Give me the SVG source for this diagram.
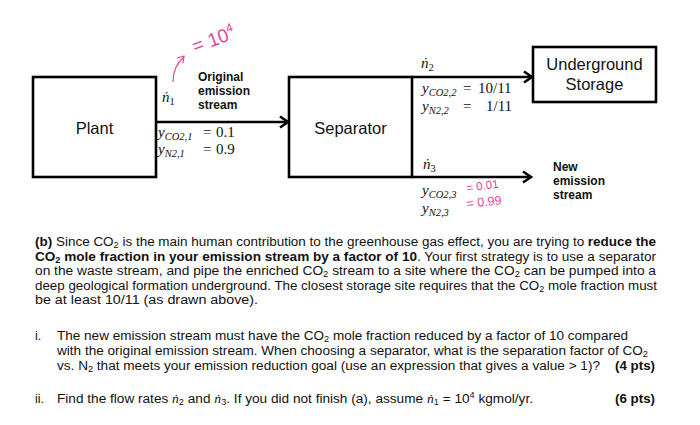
<svg xmlns="http://www.w3.org/2000/svg" width="700" height="425" viewBox="0 0 700 425">
<style>
.box{fill:#fff;stroke:#000;stroke-width:2.6}
.lbl{font-family:"Liberation Sans",Arial,sans-serif;font-size:16.5px;text-anchor:middle;fill:#111}
.bl{font-family:"Liberation Sans",Arial,sans-serif;font-size:12px;font-weight:bold;fill:#111}
.m{font-family:"Liberation Serif","DejaVu Serif",serif;font-size:15px;font-style:italic;fill:#111}
.up{font-style:normal}
.sub{font-size:10.5px}
.p{font-family:"Liberation Sans Narrow","Liberation Sans",Arial,sans-serif;font-size:12.5px;fill:#111}
.b{font-weight:bold}
.s{font-size:8.5px}
.ms{font-family:"Liberation Serif","DejaVu Serif",serif;font-style:italic}
.pink{fill:#e3439b;font-family:"Liberation Sans",Arial,sans-serif}
.conn{fill:none;stroke:#000;stroke-width:2.4}
</style>
<defs>
<marker id="arr" markerWidth="14" markerHeight="16" refX="11" refY="8" orient="auto" markerUnits="userSpaceOnUse">
<path d="M3,2.5 L11,8 L3,13.5" fill="none" stroke="#000" stroke-width="2.6"/>
</marker>
</defs>
<rect width="700" height="425" fill="#fff"/>

<g id="connectors">
<path class="conn" d="M156,122 H288" marker-end="url(#arr)"/>
<path class="conn" d="M412,77 H532" marker-end="url(#arr)"/>
<path class="conn" d="M412,177 H531" marker-end="url(#arr)"/>
</g>

<g id="plant">
<rect class="box" x="33" y="77" width="123" height="100"/>
<text class="lbl" x="94.5" y="134">Plant</text>
</g>

<g id="separator">
<rect class="box" x="289" y="77" width="123" height="100"/>
<text class="lbl" x="350.5" y="134">Separator</text>
</g>

<g id="storage">
<rect class="box" x="533" y="47" width="123" height="55"/>
<text class="lbl" x="594.5" y="70">Underground</text>
<text class="lbl" x="594.5" y="90">Storage</text>
</g>

<g id="stream1-labels">
<text class="m" x="162" y="102">ṅ<tspan class="sub up" dy="3">1</tspan></text>
<text class="bl" x="198" y="81">Original</text>
<text class="bl" x="198" y="95">emission</text>
<text class="bl" x="198" y="109">stream</text>
<text class="m" x="158" y="137">y<tspan class="sub" dy="3">CO2,1</tspan><tspan class="up" x="203" dy="-3">=</tspan><tspan class="up" x="216">0.1</tspan></text>
<text class="m" x="158" y="154">y<tspan class="sub" dy="3">N2,1</tspan><tspan class="up" x="203" dy="-3">=</tspan><tspan class="up" x="216">0.9</tspan></text>
</g>

<g id="stream2-labels">
<text class="m" x="421" y="68">ṅ<tspan class="sub up" dy="3">2</tspan></text>
<text class="m" x="422" y="93">y<tspan class="sub" dy="3">CO2,2</tspan><tspan class="up" x="463" dy="-3">=</tspan><tspan class="up" x="478">10/11</tspan></text>
<text class="m" x="422" y="111">y<tspan class="sub" dy="3">N2,2</tspan><tspan class="up" x="463" dy="-3">=</tspan><tspan class="up" x="486">1/11</tspan></text>
</g>

<g id="stream3-labels">
<text class="m" x="423" y="169">ṅ<tspan class="sub up" dy="3">3</tspan></text>
<text class="m" x="422" y="195">y<tspan class="sub" dy="3">CO2,3</tspan></text>
<text class="m" x="422" y="213">y<tspan class="sub" dy="3">N2,3</tspan></text>
<text class="bl" x="553" y="171">New</text>
<text class="bl" x="553" y="185">emission</text>
<text class="bl" x="553" y="199">stream</text>
</g>

<g id="annotations">
<text class="pink" x="467" y="192" font-size="11.5" transform="rotate(-8 467 192)">= 0.01</text>
<text class="pink" x="467" y="208" font-size="12.5" transform="rotate(-6 467 208)">= 0.99</text>
<text class="pink" x="195" y="53" font-size="19" transform="rotate(-20 195 53)">= 10<tspan font-size="12" dy="-8">4</tspan></text>
<path d="M173,82 Q173,66 184,57" fill="none" stroke="#e3439b" stroke-width="1.2"/>
<path d="M177,58 L184,56 L183,63" fill="none" stroke="#e3439b" stroke-width="1.2"/>
</g>

<g id="text">
<text class="p" x="35" y="246" textLength="621" lengthAdjust="spacingAndGlyphs"><tspan class="b">(b)</tspan> Since CO<tspan class="s" dy="2">2</tspan><tspan dy="-2"> is the main human contribution to the greenhouse gas effect, you are trying to </tspan><tspan class="b">reduce the</tspan></text>
<text class="p" x="35" y="260.5" textLength="621" lengthAdjust="spacingAndGlyphs"><tspan class="b">CO<tspan class="s" dy="2">2</tspan><tspan dy="-2"> mole fraction in your emission stream by a factor of 10</tspan></tspan>. Your first strategy is to use a separator</text>
<text class="p" x="35" y="275" textLength="621" lengthAdjust="spacingAndGlyphs">on the waste stream, and pipe the enriched CO<tspan class="s" dy="2">2</tspan><tspan dy="-2"> stream to a site where the CO</tspan><tspan class="s" dy="2">2</tspan><tspan dy="-2"> can be pumped into a</tspan></text>
<text class="p" x="35" y="289.5" textLength="622" lengthAdjust="spacingAndGlyphs">deep geological formation underground. The closest storage site requires that the CO<tspan class="s" dy="2">2</tspan><tspan dy="-2"> mole fraction must</tspan></text>
<text class="p" x="35" y="304" textLength="223" lengthAdjust="spacingAndGlyphs">be at least 10/11 (as drawn above).</text>

<text class="p" x="35" y="340">i.</text>
<text class="p" x="57" y="340" textLength="571" lengthAdjust="spacingAndGlyphs">The new emission stream must have the CO<tspan class="s" dy="2">2</tspan><tspan dy="-2"> mole fraction reduced by a factor of 10 compared</tspan></text>
<text class="p" x="57" y="355" textLength="591" lengthAdjust="spacingAndGlyphs">with the original emission stream. When choosing a separator, what is the separation factor of CO<tspan class="s" dy="2">2</tspan></text>
<text class="p" x="57" y="370" textLength="543" lengthAdjust="spacingAndGlyphs">vs. N<tspan class="s" dy="2">2</tspan><tspan dy="-2"> that meets your emission reduction goal (use an expression that gives a value &gt; 1)?</tspan></text>
<text class="p b" x="615" y="370" textLength="40" lengthAdjust="spacingAndGlyphs">(4 pts)</text>

<text class="p" x="35" y="403">ii.</text>
<text class="p" x="57" y="403" textLength="476" lengthAdjust="spacingAndGlyphs">Find the flow rates <tspan class="ms">ṅ</tspan><tspan class="s" dy="2">2</tspan><tspan dy="-2"> and </tspan><tspan class="ms">ṅ</tspan><tspan class="s" dy="2">3</tspan><tspan dy="-2">. If you did not finish (a), assume </tspan><tspan class="ms">ṅ</tspan><tspan class="s" dy="2">1</tspan><tspan dy="-2"> = 10</tspan><tspan class="s" dy="-5">4</tspan><tspan dy="5"> kgmol/yr.</tspan></text>
<text class="p b" x="615" y="403" textLength="40" lengthAdjust="spacingAndGlyphs">(6 pts)</text>
</g>
</svg>
